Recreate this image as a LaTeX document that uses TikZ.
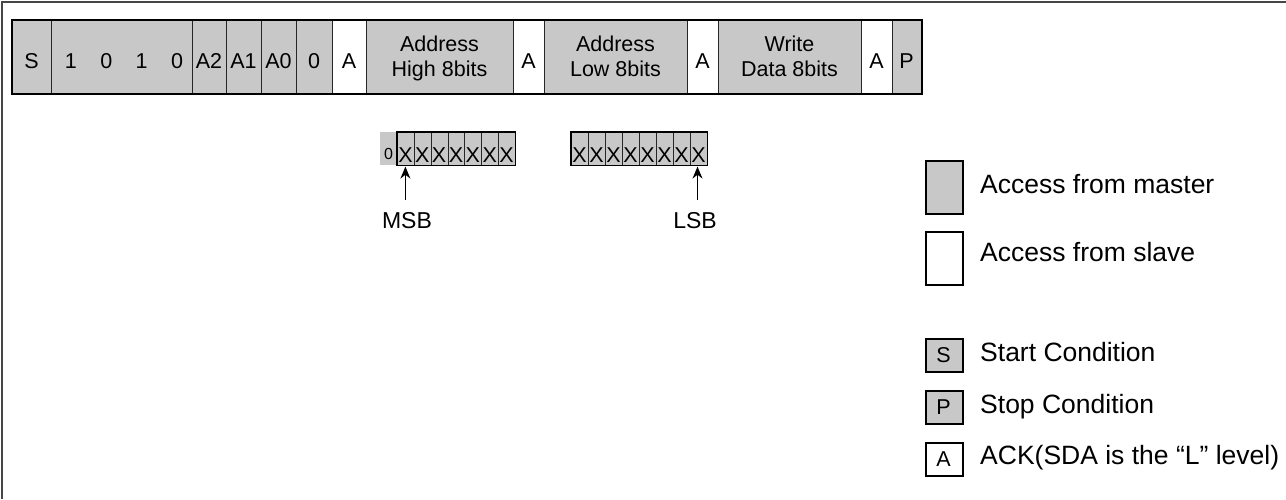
\documentclass[tikz,border=0pt]{standalone}
\usepackage{fontspec}
\setmainfont{Liberation Sans}
\usetikzlibrary{arrows.meta}
\definecolor{mgray}{RGB}{200,200,200}
\definecolor{framec}{RGB}{70,70,70}
\begin{document}
\begin{tikzpicture}[x=1pt,y=-1pt,
  cellbox/.style={draw=black!85, line width=0.8pt, inner sep=0pt, anchor=north west, minimum height=73pt},
  bartxt/.style={font=\fontsize{21.5}{25}\selectfont, inner sep=0pt, anchor=base},
  twoline/.style={font=\fontsize{21.5}{25}\selectfont, inner sep=0pt, align=center, text depth=0pt, anchor=center},
  bitcell/.style={draw=black!85, line width=0.6pt, fill=mgray, inner sep=0pt, anchor=north west, minimum height=33pt},
  bittxt/.style={font=\fontsize{21.5}{24}\selectfont, inner sep=0pt, anchor=base},
  legtxt/.style={font=\fontsize{26.5}{30}\selectfont, inner sep=0pt, anchor=base west},
  lbltxt/.style={font=\fontsize{23}{26}\selectfont, inner sep=0pt, anchor=base},
  legbox/.style={draw=black, line width=2pt, inner sep=0pt, anchor=north west},
  arr/.style={line width=1.2pt, -{Stealth[length=12pt,width=10pt]}}
]
\useasboundingbox (0,0) rectangle (1286,499);
% frame
\draw[framec, line width=2pt] (2,499) -- (2,2) -- (1286,2);

% main bar cells
\foreach \n/\xa/\w/\f in {cS/12/39/mgray, cB/51/141/mgray, cA2/192/34/mgray, cA1/226/35/mgray,
  cA0/261/35/mgray, cZ/296/36/mgray, ck1/332/34/white, cAH/366/147/mgray, ck2/513/31/white,
  cAL/544/143/mgray, ck3/687/31/white, cWD/718/143/mgray, ck4/861/31/white, cP/892/29/mgray}
  {\node[cellbox, fill=\f, minimum width=\w pt] (\n) at (\xa,20) {};}
\draw[black, line width=2.5pt] (cS.north west) rectangle (cP.south east);

% bar texts
\node[bartxt] (tS) at (31.5,68) {S};
\node[bartxt] (tB) at (124,68) {1\hspace{23.4pt}0\hspace{23.4pt}1\hspace{23.4pt}0};
\node[bartxt] (tA2) at (209,68) {A2};
\node[bartxt] (tA1) at (243.5,68) {A1};
\node[bartxt] (tA0) at (278.5,68) {A0};
\node[bartxt] (tZ) at (314,68) {0};
\node[bartxt] (tk1) at (349,68) {A};
\node[twoline] (tAH) at (439.5,56.5) {Address\\High 8bits};
\node[bartxt] (tk2) at (528.5,68) {A};
\node[twoline] (tAL) at (615.5,56.5) {Address\\Low 8bits};
\node[bartxt] (tk3) at (702.5,68) {A};
\node[twoline] (tWD) at (789.5,56.5) {Write\\Data 8bits};
\node[bartxt] (tk4) at (876.5,68) {A};
\node[bartxt] (tP) at (906.5,68) {P};

% high byte bits
\node[fill=mgray, inner sep=0pt, anchor=north west, minimum width=17pt, minimum height=33pt] (h0) at (380,132) {};
\node[font=\fontsize{16}{18}\selectfont, inner sep=0pt, anchor=base] (h0t) at (388.5,159) {0};
\foreach \i in {1,...,7}{
  \node[bitcell, minimum width=16.86pt] (h\i) at ({397+(\i-1)*16.857},132) {};
  \node[bittxt] at ({397+(\i-0.5)*16.857},162) {X};
}
\draw[black, line width=1.5pt] (h1.north west) rectangle (h7.south east);

% low byte bits
\foreach \i in {1,...,8}{
  \node[bitcell, minimum width=17pt] (l\i) at ({571+(\i-1)*17},132) {};
  \node[bittxt] at ({571+(\i-0.5)*17},162) {X};
}
\draw[black, line width=1.5pt] (l1.north west) rectangle (l8.south east);

% MSB / LSB
\node[lbltxt] (msb) at (407,228) {MSB};
\node[lbltxt] (lsb) at (695,228) {LSB};
\coordinate (msbs) at (405.4,200);
\coordinate (lsbs) at (697.5,200);
\draw[arr, shorten >=1pt] (msbs) -- (msbs |- h1.south);
\draw[arr, shorten >=1pt] (lsbs) -- (lsbs |- l8.south);

% legend
\node[legbox, fill=mgray, minimum width=37pt, minimum height=53pt] (lm) at (925,160) {};
\node[legtxt] (lmt) at (980,193) {Access from master};
\node[legbox, fill=white, minimum width=37pt, minimum height=53pt] (ls) at (925,231) {};
\node[legtxt] (lst) at (980,261) {Access from slave};

\node[legbox, fill=mgray, minimum width=37pt, minimum height=33pt] (lS) at (925,338) {};
\node[bartxt] at (943.5,362) {S};
\node[legtxt] (lSt) at (980,361) {Start Condition};
\node[legbox, fill=mgray, minimum width=37pt, minimum height=33pt] (lP) at (925,390) {};
\node[bartxt] at (943.5,414) {P};
\node[legtxt] (lPt) at (980,413) {Stop Condition};
\node[legbox, fill=white, minimum width=37pt, minimum height=33pt] (lA) at (925,442) {};
\node[bartxt] at (943.5,466) {A};
\node[legtxt] (lAt) at (980,464) {ACK(SDA is the “L” level)};
\end{tikzpicture}
\end{document}
